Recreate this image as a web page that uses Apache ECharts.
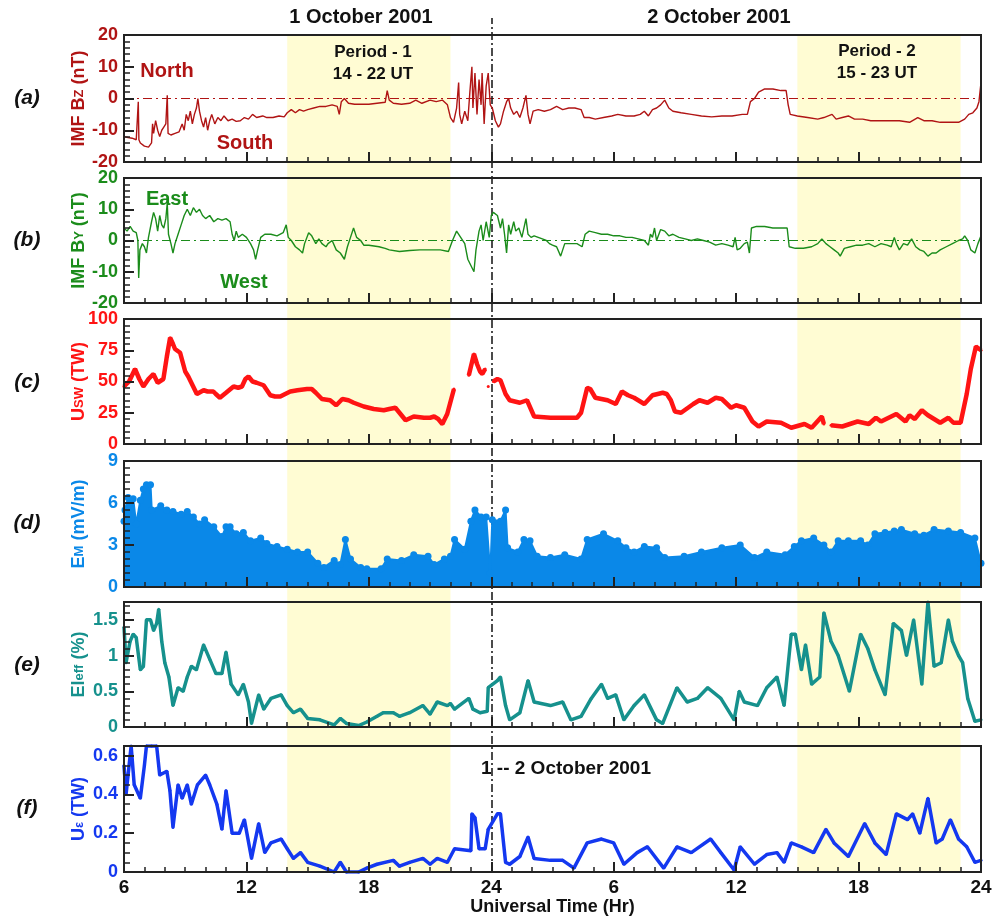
<!DOCTYPE html>
<html><head><meta charset="utf-8">
<script src="https://cdn.jsdelivr.net/npm/echarts@6/dist/echarts.min.js"></script>
<style>html,body{margin:0;padding:0;background:#fff}#c{width:1006px;height:917px}</style>
</head><body><div id="c"></div>
<script>
// ---- DATA (hours from 00 UT, 1 Oct 2001; 24-48 = 2 Oct) ----
const bzData = [[6.0,-12],[6.2,-12.3],[6.4,-12.5],[6.6,-13],[6.68,-13],[6.7,-1],[6.73,-13],[6.8,-14],[7.0,-15],[7.2,-15.3],[7.35,-14],[7.4,-8],[7.45,-11],[7.55,-7],[7.65,-10],[7.75,-12],[7.85,-10],[7.95,-9],[8.05,-8],[8.12,1],[8.16,-11],[8.3,-11.5],[8.5,-11],[8.7,-10.5],[8.85,-8],[8.95,-10],[9.05,-5],[9.15,-7],[9.25,-4],[9.35,-8],[9.45,-5],[9.55,-3],[9.62,0],[9.7,-4],[9.8,-7],[9.9,-9],[10.0,-6],[10.1,-10],[10.2,-7],[10.3,-5],[10.45,-8],[10.6,-6],[10.75,-7],[10.9,-5.5],[11.1,-7],[11.3,-6.5],[11.5,-7.2],[11.7,-7],[11.9,-6],[12.1,-6.5],[12.3,-5],[12.5,-6],[12.8,-5.5],[13.0,-6],[13.3,-6],[13.6,-5.5],[13.85,-5.8],[14.0,-4.5],[14.2,-3.5],[14.4,-4.5],[14.6,-3.5],[14.8,-4],[15.0,-3.5],[15.3,-3],[15.6,-2.5],[15.9,-2.5],[16.2,-2],[16.45,-2.5],[16.55,-5],[16.65,-1],[16.8,0],[17.0,-1.5],[17.3,-1.8],[17.6,-1.8],[18.0,-1.8],[18.4,-1.5],[18.8,-1.2],[18.9,2.5],[19.0,-0.5],[19.2,-1.5],[19.6,-1.8],[20.0,-1.5],[20.3,-0.5],[20.6,-1.5],[21.0,-0.5],[21.3,-1],[21.6,-0.5],[21.85,-2],[22.0,-6],[22.15,-7.5],[22.3,-3],[22.4,5],[22.45,-5],[22.55,-8],[22.7,-4],[22.85,-7],[22.95,2],[23.05,10],[23.1,-3],[23.2,8],[23.3,-5],[23.4,6],[23.5,-2],[23.55,8],[23.65,-8],[23.75,4],[23.85,8],[23.95,-2],[24.05,-3],[24.2,-7],[24.35,-9],[24.45,-8],[24.6,-4],[24.75,-1],[24.85,0],[24.95,-3],[25.1,-5],[25.25,-4],[25.4,-6],[25.55,-3],[25.7,1],[25.8,-5],[25.9,-8],[26.05,-4],[26.3,-3.5],[26.6,-4],[26.9,-3.5],[27.2,-2.5],[27.5,-3.5],[27.8,-3],[28.1,-3],[28.4,-3.5],[28.55,-6],[28.8,-6],[29.1,-6.5],[29.5,-6],[29.9,-5.5],[30.2,-5],[30.6,-5.5],[31.0,-5.5],[31.3,-5],[31.5,-4],[31.7,-5.5],[31.9,-3.5],[32.1,-3],[32.3,-2],[32.5,-0.5],[32.7,-3],[32.9,-4],[33.3,-4.5],[33.8,-5],[34.3,-5.5],[34.8,-5.8],[35.3,-5.5],[35.8,-5.5],[36.3,-5],[36.55,-5],[36.7,-1],[36.9,0],[37.1,2],[37.4,3],[37.8,3],[38.2,2.5],[38.45,2.5],[38.55,-2],[38.65,-5],[39.0,-5.5],[39.5,-6],[40.0,-6.5],[40.3,-6],[40.7,-5],[40.9,-6.5],[41.2,-6],[41.5,-5.5],[41.8,-6.5],[42.2,-6.5],[42.6,-7],[43.0,-7],[43.5,-7],[44.0,-7],[44.5,-7.5],[44.9,-6],[45.2,-7],[45.6,-7],[46.0,-7.5],[46.5,-7.5],[46.9,-7.5],[47.2,-6.5],[47.4,-5],[47.6,-4.5],[47.8,-3],[47.9,-1],[48.0,5]];

const byData = [[6.0,4],[6.15,3],[6.3,4.5],[6.45,3],[6.6,2.5],[6.68,0],[6.72,-12],[6.78,-3],[6.9,-1],[7.0,-2],[7.1,-4],[7.2,1],[7.35,6],[7.45,9],[7.55,7],[7.65,3],[7.75,8],[7.85,5],[7.95,4],[8.05,7],[8.12,12],[8.18,2],[8.3,-1],[8.4,-4],[8.5,-1],[8.65,2],[8.8,5],[8.95,8],[9.1,10],[9.25,8],[9.4,10.5],[9.55,9],[9.7,10],[9.85,8],[10.0,7],[10.2,8],[10.4,6],[10.6,7],[10.8,6.5],[11.0,7],[11.2,6],[11.3,2],[11.4,0],[11.5,3],[11.6,1],[11.8,2],[12.0,1],[12.2,-1],[12.35,-3],[12.45,-6],[12.55,-3],[12.7,1],[12.9,2],[13.2,2],[13.5,1.5],[13.8,2.5],[13.95,5],[14.05,1],[14.2,0],[14.4,-2],[14.6,-3],[14.75,-4],[14.85,-1],[15.05,2.5],[15.2,1.5],[15.4,-1],[15.55,0.5],[15.7,-1],[15.9,-2],[16.0,-1],[16.2,0],[16.4,-3],[16.6,-4],[16.8,-6],[16.95,-2],[17.1,1],[17.25,4],[17.4,1],[17.6,0],[17.75,-1.5],[18.0,-1.5],[18.5,-2],[18.8,-2.5],[19.0,-3],[19.5,-3.5],[20.0,-3.2],[20.5,-3],[21.0,-3],[21.5,-3],[21.9,-3.5],[22.1,0],[22.3,3],[22.5,1],[22.7,-1],[22.85,-6],[23.0,-8],[23.15,-10],[23.25,-3],[23.4,3],[23.5,5],[23.6,0],[23.75,6],[23.9,1],[24.0,8],[24.1,9],[24.3,8],[24.45,4],[24.55,7],[24.65,2],[24.75,-4],[24.85,5],[24.95,2],[25.1,6],[25.2,3],[25.35,4],[25.5,1],[25.7,7],[25.8,2],[25.95,1],[26.1,1.5],[26.3,1],[26.5,0.5],[26.7,0],[26.85,-1],[27.0,-1.5],[27.2,-2],[27.4,-5],[27.6,-1],[27.9,-1],[28.2,-1],[28.45,-2],[28.6,2],[28.8,3],[29.1,2.5],[29.4,2],[29.7,2],[30.0,1.5],[30.3,1.5],[30.6,1],[30.9,1],[31.2,0.5],[31.5,0],[31.7,-1.5],[31.8,2],[31.9,1],[32.0,4],[32.1,0],[32.3,3.5],[32.5,3],[32.7,1.5],[32.9,2],[33.2,1],[33.5,0.5],[33.8,0],[34.1,0.5],[34.4,0],[34.7,-0.5],[35.0,-1.5],[35.3,-1],[35.6,-1.5],[35.85,-2],[35.95,1],[36.05,-3],[36.2,-2.5],[36.4,-1],[36.55,-0.5],[36.65,-4],[36.75,4],[37.0,4.5],[37.4,4.5],[37.8,4],[38.2,4],[38.5,4],[38.6,-2],[38.9,-2.5],[39.3,-2.5],[39.7,-2],[40.0,-1],[40.2,0.5],[40.4,-1],[40.6,-2],[40.8,-3],[41.0,-4],[41.1,-5],[41.3,-2.5],[41.6,-2],[41.9,-1.5],[42.2,-1.5],[42.5,-1],[42.8,-2],[43.1,-1],[43.4,-1.5],[43.6,-2],[43.75,1],[43.85,-1],[44.0,-3],[44.2,-1],[44.4,-1.5],[44.6,0.5],[44.8,-2],[45.0,-3],[45.2,-3.5],[45.4,-5],[45.6,-4],[45.8,-4],[46.0,-3],[46.3,-2],[46.6,-1],[46.9,0],[47.1,0.5],[47.2,1.5],[47.35,0],[47.5,-3],[47.7,-4],[47.85,-1],[48.0,1.5]];

const uswData = [[6.0,46],[6.25,50],[6.54,60],[6.75,52],[6.95,46],[7.2,52],[7.44,56],[7.65,49],[7.93,52],[8.1,70],[8.26,85],[8.4,80],[8.5,76],[8.75,73],[9.0,58],[9.15,54],[9.33,48],[9.57,40],[9.9,43],[10.1,42],[10.38,42],[10.5,40],[10.7,37],[11.0,41],[11.37,46],[11.6,45],[11.78,46],[11.95,52],[12.1,54],[12.3,50],[12.5,49],[12.84,47],[13.17,39],[13.4,38],[13.66,38],[13.9,40],[14.15,42],[14.5,43],[14.97,44],[15.2,44],[15.4,41],[15.7,36],[16.1,35],[16.4,31],[16.7,36],[17.0,35],[17.26,33],[17.75,30],[18.24,28],[18.73,27],[19.0,28],[19.3,29],[19.5,25],[19.8,19],[20.2,22],[20.7,21],[21.0,21],[21.2,22],[21.4,20],[21.6,16],[21.84,24],[22.17,44],[22.5,null],[22.9,55],[23.15,72],[23.3,64],[23.45,58],[23.56,56],[23.7,60],[23.75,null],[23.85,46],[23.9,null],[24.1,50],[24.3,52],[24.45,51],[24.7,40],[24.9,35],[25.4,33],[25.75,35],[26.1,22],[26.9,21],[27.5,21],[28.2,21],[28.4,25],[28.7,45],[28.85,44],[29.1,37],[29.7,35],[30.1,32],[30.4,42],[30.7,39],[31.0,37],[31.5,32],[31.9,39],[32.4,41],[32.6,40],[32.8,35],[33.0,26],[33.3,25],[33.9,32],[34.2,35],[34.6,33],[35.0,37],[35.3,36],[35.75,29],[36.0,31],[36.4,29],[36.8,18],[37.1,14],[37.5,18],[38.2,17],[38.7,13],[39.35,16],[39.7,13],[40.2,22],[40.3,16],[40.45,null],[40.65,15],[41.2,14],[41.95,18],[42.5,16],[42.85,21],[43.1,18],[43.85,24],[44.3,18],[44.5,23],[44.75,20],[45.1,27],[45.4,23],[45.7,20],[46.0,17],[46.4,21],[46.65,17],[47.0,17],[47.3,40],[47.5,60],[47.75,78],[48.0,75]];

const emData = [[6.0,4.7],[6.05,5.5],[6.2,6.4],[6.45,6.3],[6.6,4.5],[6.8,6.2],[6.95,7.0],[7.1,7.3],[7.3,7.3],[7.36,5.5],[7.8,5.8],[8.1,5.5],[8.4,5.4],[8.8,5.2],[9.1,5.4],[9.4,5.0],[9.7,4.5],[9.95,4.8],[10.4,4.3],[10.8,3.6],[11.0,4.3],[11.2,4.3],[11.5,3.8],[11.85,3.9],[12.2,3.3],[12.7,3.5],[13.0,3.1],[13.5,2.9],[14.0,2.7],[14.5,2.5],[15.0,2.5],[15.5,1.7],[15.8,1.4],[16.3,1.9],[16.6,1.6],[16.85,3.4],[17.1,2.0],[17.6,1.4],[17.9,1.3],[18.6,1.3],[18.9,2.0],[19.6,1.9],[20.2,2.3],[20.9,2.2],[21.2,1.6],[21.7,2.0],[22.0,2.2],[22.2,3.4],[22.7,2.7],[23.0,4.7],[23.2,5.5],[23.5,5.0],[23.75,5.0],[23.95,1.0],[24.05,4.8],[24.45,4.7],[24.7,5.5],[24.8,2.8],[25.3,2.5],[25.6,3.4],[25.9,3.3],[26.25,2.2],[26.9,2.1],[27.6,2.3],[28.4,2.0],[28.7,3.4],[29.5,3.8],[30.2,3.3],[30.6,2.8],[31.0,2.5],[31.5,2.9],[32.1,2.8],[32.5,2.1],[33.45,2.2],[34.3,2.5],[35.3,2.8],[36.2,3.0],[36.9,2.1],[37.5,2.5],[38.4,2.3],[38.85,2.9],[39.2,3.3],[39.8,3.5],[40.3,3.0],[40.65,2.5],[41.0,3.3],[41.5,3.3],[42.1,3.3],[42.45,3.0],[42.8,3.8],[43.3,3.9],[43.75,4.0],[44.1,4.1],[44.75,3.8],[45.2,3.7],[45.7,4.1],[46.4,4.0],[47.0,3.9],[47.7,3.5],[48.0,1.7]];

const eleffData = [[6.0,1.4],[6.1,0.9],[6.3,1.2],[6.45,1.3],[6.6,1.25],[6.8,0.8],[6.95,0.85],[7.1,1.5],[7.3,1.5],[7.45,1.35],[7.6,1.45],[7.7,1.65],[7.85,1.2],[8.0,0.9],[8.2,0.7],[8.4,0.3],[8.65,0.55],[8.9,0.5],[9.1,0.7],[9.3,0.85],[9.55,0.8],[9.9,1.15],[10.2,0.95],[10.5,0.75],[10.8,0.75],[11.0,1.05],[11.25,0.6],[11.6,0.45],[11.85,0.6],[12.1,0.35],[12.25,0.05],[12.6,0.45],[12.85,0.25],[13.2,0.4],[13.7,0.45],[14.0,0.3],[14.3,0.2],[14.65,0.25],[15.0,0.12],[15.6,0.1],[16.3,0.03],[16.6,0.12],[16.9,0.05],[17.5,0.02],[17.9,0.07],[18.4,0.15],[18.7,0.2],[19.2,0.2],[19.5,0.15],[20.0,0.2],[20.65,0.3],[21.0,0.18],[21.35,0.35],[21.85,0.3],[22.0,0.33],[22.2,0.25],[22.9,0.4],[23.1,0.25],[23.45,0.2],[23.8,0.22],[23.85,0.55],[24.3,0.65],[24.45,0.7],[24.7,0.3],[24.9,0.1],[25.4,0.2],[25.8,0.65],[26.1,0.35],[26.9,0.3],[27.5,0.35],[27.9,0.1],[28.4,0.15],[28.9,0.4],[29.4,0.6],[29.7,0.4],[30.1,0.45],[30.5,0.1],[31.0,0.3],[31.5,0.45],[32.1,0.1],[32.4,0.05],[33.1,0.55],[33.6,0.35],[34.1,0.4],[34.6,0.55],[35.25,0.4],[35.9,0.1],[36.15,0.5],[36.4,0.35],[37.05,0.3],[37.5,0.55],[38.0,0.7],[38.35,0.3],[38.7,1.3],[38.9,1.3],[39.2,0.8],[39.4,1.15],[39.7,0.6],[40.1,0.7],[40.3,1.6],[40.65,1.2],[41.0,1.0],[41.55,0.5],[42.1,1.3],[42.45,1.1],[42.8,0.8],[43.3,0.45],[43.7,1.45],[44.1,1.35],[44.35,1.0],[44.7,1.5],[45.1,0.6],[45.4,1.75],[45.7,0.85],[46.05,0.9],[46.4,1.5],[46.6,1.2],[46.9,1.0],[47.1,0.9],[47.35,0.4],[47.7,0.08],[48.0,0.1]];

const uepsData = [[6.0,0.55],[6.1,0.4],[6.35,0.65],[6.5,0.45],[6.8,0.38],[7.0,0.55],[7.1,0.65],[7.35,0.65],[7.6,0.65],[7.75,0.5],[8.1,0.52],[8.25,0.42],[8.4,0.23],[8.65,0.45],[8.85,0.38],[9.1,0.45],[9.3,0.35],[9.6,0.45],[10.0,0.5],[10.2,0.45],[10.55,0.35],[10.8,0.22],[11.0,0.42],[11.3,0.2],[11.65,0.2],[11.9,0.27],[12.25,0.07],[12.6,0.25],[12.9,0.1],[13.2,0.15],[13.7,0.17],[14.0,0.12],[14.3,0.07],[14.65,0.1],[15.0,0.05],[15.6,0.03],[16.3,0.0],[16.6,0.05],[16.9,0.0],[17.5,0.0],[17.9,0.02],[18.4,0.04],[19.2,0.06],[19.5,0.03],[20.0,0.05],[20.65,0.07],[21.0,0.04],[21.35,0.07],[21.85,0.05],[22.2,0.12],[23.0,0.11],[23.05,0.3],[23.2,0.28],[23.4,0.12],[23.7,0.12],[23.85,0.22],[24.3,0.3],[24.45,0.3],[24.7,0.05],[24.9,0.04],[25.4,0.08],[25.8,0.18],[26.1,0.07],[26.9,0.06],[27.5,0.06],[28.05,0.02],[28.7,0.15],[29.4,0.17],[30.0,0.15],[30.5,0.04],[31.15,0.1],[31.65,0.13],[32.45,0.02],[33.1,0.13],[33.8,0.1],[34.75,0.17],[35.25,0.1],[35.9,0.01],[36.2,0.13],[36.9,0.04],[37.5,0.09],[38.0,0.1],[38.35,0.05],[38.7,0.15],[39.2,0.13],[39.8,0.1],[40.4,0.22],[40.8,0.15],[41.5,0.08],[42.3,0.25],[42.8,0.15],[43.35,0.09],[43.85,0.3],[44.4,0.27],[44.65,0.3],[45.0,0.2],[45.4,0.38],[45.8,0.15],[46.1,0.17],[46.5,0.27],[46.9,0.17],[47.3,0.13],[47.7,0.05],[48.0,0.06]];

const xRange = [6, 48];
const dayBoundary = 24;
const periods = [[14, 22], [39, 47]];
const panelLetters = ['(a)', '(b)', '(c)', '(d)', '(e)', '(f)'];
const dayTitles = ['1 October 2001', '2 October 2001'];
const periodLabels = [['Period - 1', '14 - 22 UT'], ['Period - 2', '15 - 23 UT']];

// ---- LAYOUT / STYLE ----
const FONT = '"Liberation Sans", Arial, sans-serif';
const LEFT = 124, WIDTH = 857;
const panels = [
  {top:35, height:127, min:-20, max:20, interval:10, minor:5, color:'#b01414', name:'{m|IMF B}{s|Z}{m| (nT)}', data:bzData, zero:true, width:1.4},
  {top:178, height:125, min:-20, max:20, interval:10, minor:5, color:'#1b8c1b', name:'{m|IMF B}{s|Y}{m| (nT)}', data:byData, zero:true, width:1.4},
  {top:319, height:125, min:0, max:100, interval:25, minor:5, color:'#ff1414', name:'{m|U}{s|SW}{m| (TW)}', data:uswData, width:4.5, sym:3},
  {top:461, height:126, min:0, max:9, interval:3, minor:6, color:'#0a88e8', name:'{m|E}{s|M}{m| (mV/m)}', data:emData, area:true},
  {top:602, height:125, min:0, max:1.75, interval:0.5, minor:5, color:'#16918d', name:'{m|El}{s|eff}{m| (%)}', data:eleffData, width:3.5, sym:3},
  {top:746, height:126, min:0, max:0.65, interval:0.2, minor:4, color:'#1438f0', name:'{m|U}{s|ε}{m| (TW)}', data:uepsData, width:3.5, sym:3}
];

const grid = [], xAxis = [], yAxis = [], series = [];
panels.forEach((p, i) => {
  grid.push({left:LEFT, width:WIDTH, top:p.top, height:p.height, show:true, borderColor:'#222', borderWidth:2, backgroundColor:'transparent', z:10});
  xAxis.push({
    gridIndex:i, type:'value', min:xRange[0], max:xRange[1], interval:6, z:10,
    axisLine:{show:true, onZero:false, lineStyle:{color:'#222', width:2}},
    axisTick:{show:true, inside:true, length:10, lineStyle:{color:'#222', width:2}},
    minorTick:{show:true, splitNumber:6, length:5, lineStyle:{color:'#222', width:1.5}},
    splitLine:{show:false},
    axisLabel:{show:i===5, color:'#111', fontSize:19, fontWeight:'bold', fontFamily:FONT, margin:6,
      formatter:v => String(v > 24 ? v - 24 : v)},
    name: i===5 ? 'Universal Time (Hr)' : '', nameLocation:'middle', nameGap:26, nameMoveOverlap:false,
    nameTextStyle:{color:'#111', fontSize:18, fontWeight:'bold', fontFamily:FONT}
  });
  yAxis.push({
    gridIndex:i, type:'value', min:p.min, max:p.max, interval:p.interval, z:10,
    axisLine:{show:true, lineStyle:{color:'#222', width:2}},
    axisTick:{show:true, inside:true, length:10, lineStyle:{color:'#222', width:2}},
    minorTick:{show:true, splitNumber:p.minor, length:6, lineStyle:{color:'#222', width:1.5}},
    splitLine:{show:false},
    axisLabel:{color:p.color, fontSize:18, fontWeight:'bold', fontFamily:FONT, margin:6, showMaxLabel: (p.max % p.interval === 0)},
    name:p.name, nameLocation:'middle', nameRotate:90, nameGap:36, nameMoveOverlap:false,
    nameTextStyle:{rich:{
      m:{color:p.color, fontSize:18, fontWeight:'bold', fontFamily:FONT},
      s:{color:p.color, fontSize:13, fontWeight:'bold', fontFamily:FONT}
    }}
  });
  const s = {
    type:'line', xAxisIndex:i, yAxisIndex:i, data:p.data, z:5,
    connectNulls:false, animation:false, silent:true,
    lineStyle:{color:p.color, width:p.width || 1.5},
    itemStyle:{color:p.color},
    symbol: p.sym ? 'circle' : 'none', symbolSize: p.sym || 0, showSymbol: !!p.sym
  };
  if (p.area) {
    s.areaStyle = {color:p.color, opacity:1};
    s.lineStyle = {color:p.color, width:2};
    s.symbol = 'circle'; s.symbolSize = 7; s.showSymbol = true;
  }
  if (p.zero) {
    s.markLine = {silent:true, symbol:'none', label:{show:false},
      lineStyle:{color:p.color, type:[9,4,2,4], width:1.2}, data:[{yAxis:0}]};
  }
  series.push(s);
});

// overlay grid for shaded periods (spans all panels)
grid.push({left:LEFT, width:WIDTH, top:35, height:837, show:false});
xAxis.push({gridIndex:6, type:'value', min:xRange[0], max:xRange[1], show:false});
yAxis.push({gridIndex:6, type:'value', min:0, max:1, show:false});
series.push({type:'line', xAxisIndex:6, yAxisIndex:6, data:[], z:1, silent:true, animation:false,
  markArea:{silent:true, itemStyle:{color:'#fffcd3'}, data:periods.map(p => [{xAxis:p[0]}, {xAxis:p[1]}])}});

// overlay grid for day boundary dash-dot line
grid.push({left:LEFT, width:WIDTH, top:18, height:854, show:false});
xAxis.push({gridIndex:7, type:'value', min:xRange[0], max:xRange[1], show:false});
yAxis.push({gridIndex:7, type:'value', min:0, max:1, show:false});
series.push({type:'line', xAxisIndex:7, yAxisIndex:7, data:[], z:12, silent:true, animation:false,
  markLine:{silent:true, symbol:'none', label:{show:false},
    lineStyle:{color:'#111', type:[8,3,2,3], width:1.5}, data:[{xAxis:dayBoundary}]}});

// text annotations
const txt = (x, y, text, size, color, extra) => Object.assign({
  type:'text', x, y, z:20,
  style:{text, fill:color, font:'bold ' + size + 'px ' + FONT, textAlign:'center', textVerticalAlign:'middle'}
}, extra || {});
const graphic = [
  txt(361, 17, dayTitles[0], 20, '#111'),
  txt(719, 17, dayTitles[1], 20, '#111'),
  txt(373, 52, periodLabels[0][0], 17, '#111'),
  txt(373, 74, periodLabels[0][1], 17, '#111'),
  txt(877, 51, periodLabels[1][0], 17, '#111'),
  txt(877, 73, periodLabels[1][1], 17, '#111'),
  txt(167, 71, 'North', 20, '#b01414'),
  txt(245, 143, 'South', 20, '#b01414'),
  txt(167, 199, 'East', 20, '#1b8c1b'),
  txt(244, 282, 'West', 20, '#1b8c1b'),
  txt(566, 769, '1 -- 2 October 2001', 19, '#111')
];
const letterY = [98, 240, 382, 523, 665, 808];
panelLetters.forEach((l, i) => {
  graphic.push({type:'text', x:27, y:letterY[i], z:20,
    style:{text:l, fill:'#111', font:'italic bold 21px ' + FONT, textAlign:'center', textVerticalAlign:'middle'}});
});

const chart = echarts.init(document.getElementById('c'), null, {renderer:'canvas'});
chart.setOption({backgroundColor:'#fff', animation:false, grid, xAxis, yAxis, series, graphic});
</script>
</body></html>
